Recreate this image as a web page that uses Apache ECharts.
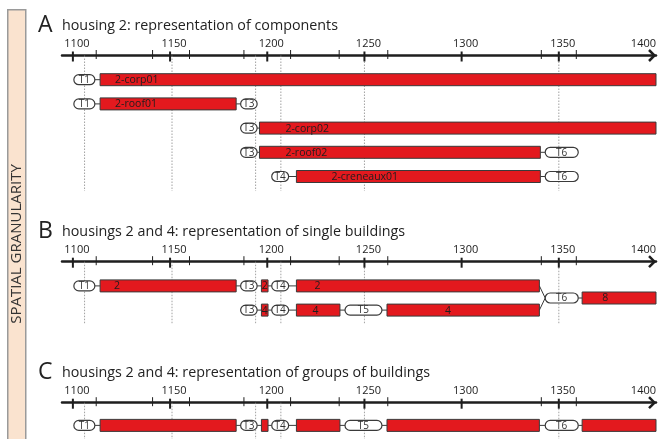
<!DOCTYPE html>
<html><head><meta charset="utf-8">
<script src="https://cdn.jsdelivr.net/npm/echarts@6/dist/echarts.min.js"></script>
<style>html,body{margin:0;padding:0;background:#fff}#c{width:659px;height:439px}</style>
</head><body><div id="c"></div>
<script>
// ---------- DATA ----------
const majorYears = [1100, 1150, 1200, 1250, 1300, 1350, 1400];
const minorYears = [1112, 1141, 1160, 1188, 1212, 1237, 1262, 1341, 1359];
const guideYears = [1106, 1151, 1194, 1207, 1250, 1350];
const panelLetters = ['A', 'B', 'C'];
const panelTitles = [
  'housing 2: representation of components',
  'housings 2 and 4: representation of single buildings',
  'housings 2 and 4: representation of groups of buildings'
];
const sideLabel = 'SPATIAL GRANULARITY';
// bars: [row, startYear, endYear, label]
const barsA = [
  [1, 1114, 1400, '2-corp01'],
  [2, 1114, 1184, '2-roof01'],
  [3, 1196, 1400, '2-corp02'],
  [4, 1196, 1340.5, '2-roof02'],
  [5, 1215, 1340.5, '2-creneaux01']
];
// pills (time markers): [row, startYear, endYear, label]
const pillsA = [
  [1, 1100.5, 1111.3, 'T1'],
  [2, 1100.5, 1111.3, 'T1'],
  [2, 1186.3, 1194.8, 'T3'],
  [3, 1186.3, 1194.8, 'T3'],
  [4, 1186.3, 1194.8, 'T3'],
  [4, 1343, 1360, 'T6'],
  [5, 1202.3, 1211, 'T4'],
  [5, 1343, 1360, 'T6']
];
const barsB = [
  [1, 1114, 1184, '2'],
  [1, 1197, 1200.4, '2'],
  [1, 1215, 1340, '2'],
  [1.5, 1362, 1400, '8'],
  [2, 1197, 1200.4, '4'],
  [2, 1215, 1237.4, '4'],
  [2, 1261.6, 1340, '4']
];
const pillsB = [
  [1, 1100.5, 1111.3, 'T1'],
  [1, 1186.3, 1194.8, 'T3'],
  [1, 1202.3, 1211, 'T4'],
  [2, 1186.3, 1194.8, 'T3'],
  [2, 1202.3, 1211, 'T4'],
  [2, 1240, 1259, 'T5'],
  [1.5, 1343, 1360, 'T6']
];
const barsC = [
  [1, 1114, 1184, ''],
  [1, 1197, 1200.4, ''],
  [1, 1215, 1237.4, ''],
  [1, 1261.6, 1340, ''],
  [1, 1362, 1400, '']
];
const pillsC = [
  [1, 1100.5, 1111.3, 'T1'],
  [1, 1186.3, 1194.8, 'T3'],
  [1, 1202.3, 1211, 'T4'],
  [1, 1240, 1259, 'T5'],
  [1, 1343, 1360, 'T6']
];

// ---------- STYLE / LAYOUT ----------
const FONT = "'Open Sans', 'DejaVu Sans', sans-serif";
const RED = '#e3191e', EDGE = '#3a3a3a', INK = '#1e1e1e';
const ROW = 24.2;
const X0 = 1094.4, X1 = 1400;
// label offset (px from bar start); null = centred
const labelDx = [
  [15, 15, 26, 26, 35],
  [14, null, 18, 20, null, 16, 58],
  [null, null, null, null, null]
];
const panels = [
  { bars: barsA, pills: pillsA, top: 55.5, rows: 5.6 },
  { bars: barsB, pills: pillsB, top: 261.7, rows: 2.6 },
  { bars: barsC, pills: pillsC, top: 402.7, rows: 1.6 }
];

function txt(text, x, y, align, size, color) {
  return { type: 'text', style: { text: text, x: x, y: y, align: align, verticalAlign: 'middle',
    textAlign: align, textVerticalAlign: 'middle', font: size + 'px ' + FONT, fill: color } };
}

const grid = [], xAxis = [], yAxis = [], series = [], title = [];
panels.forEach(function (p, i) {
  grid.push({ left: 62, right: 0, top: p.top, height: p.rows * ROW });
  yAxis.push({ gridIndex: i, type: 'value', inverse: true, min: 0, max: p.rows, show: false });
  xAxis.push({ gridIndex: i, type: 'value', position: 'top', min: X0, max: X1,
    axisLine: { show: true, onZero: false, lineStyle: { color: INK, width: 2.5 } },
    axisTick: { show: false }, splitLine: { show: false },
    axisLabel: { customValues: majorYears, margin: 6, fontSize: 11, fontFamily: FONT, color: '#222',
      padding: [0, 0, 0, 8], alignMaxLabel: 'right', formatter: function (v) { return String(v); } } });
  title.push({ text: panelLetters[i], left: 38, top: p.top - 42, padding: 0,
    textStyle: { fontSize: 23, fontWeight: 'normal', fontFamily: FONT, color: '#222' } });
  title.push({ text: panelTitles[i], left: 62, top: p.top - 37, padding: 0,
    textStyle: { fontSize: 14.3, fontWeight: 'normal', fontFamily: FONT, color: '#222' } });

  const ax = { xAxisIndex: i, yAxisIndex: i };
  // dotted guides
  series.push(Object.assign({ type: 'custom', z: 1, silent: true,
    data: guideYears.map(function (g) { return [g, 0]; }),
    encode: { x: 0, y: 1 },
    renderItem: function (params, api) {
      const a = api.coord([api.value(0), 0]);
      const b = api.coord([api.value(0), p.rows]);
      return { type: 'line', shape: { x1: a[0], y1: a[1], x2: b[0], y2: b[1] },
        style: { stroke: '#8a8a8a', lineWidth: 0.8, lineDash: [1.5, 1.5] } };
    } }, ax));
  // ticks
  const ticks = majorYears.map(function (y) { return [y, 0, 1]; })
    .concat(minorYears.map(function (y) { return [y, 0, 0]; }));
  series.push(Object.assign({ type: 'custom', z: 6, silent: true, data: ticks, encode: { x: 0, y: 1 },
    renderItem: function (params, api) {
      const c = api.coord([api.value(0), 0]);
      const major = api.value(2) === 1;
      if (major && api.value(0) >= X1) return null;
      return { type: 'line', shape: { x1: c[0], y1: c[1] - (major ? 4 : 5.5), x2: c[0], y2: c[1] + (major ? 6 : 3.5) },
        style: { stroke: INK, lineWidth: major ? 2 : 1 } };
    } }, ax));
  // arrow head
  series.push(Object.assign({ type: 'custom', z: 6, silent: true, data: [[X1, 0]], encode: { x: 0, y: 1 },
    renderItem: function (params, api) {
      const c = api.coord([api.value(0), 0]);
      return { type: 'polyline', shape: { points: [[c[0] - 7, c[1] - 5.5], [c[0] - 1.5, c[1]], [c[0] - 7, c[1] + 5.5]] },
        style: { stroke: INK, lineWidth: 2.5, fill: null } };
    } }, ax));
  // bars
  series.push(Object.assign({ type: 'custom', z: 3, silent: true,
    data: p.bars.map(function (b) { return [b[1], b[0], b[2]]; }),
    encode: { x: [0, 2], y: 1 },
    renderItem: function (params, api) {
      const b = p.bars[params.dataIndex];
      const p0 = api.coord([api.value(0), api.value(1)]);
      const p1 = api.coord([api.value(2), api.value(1)]);
      const h = 12;
      const ch = [{ type: 'rect', shape: { x: p0[0], y: p0[1] - h / 2, width: p1[0] - p0[0], height: h },
        style: { fill: RED, stroke: EDGE, lineWidth: 1 } }];
      if (b[3]) {
        const d = labelDx[i][params.dataIndex];
        if (d == null) ch.push(txt(b[3], (p0[0] + p1[0]) / 2, p0[1] + 0.5, 'center', 10.5, INK));
        else ch.push(txt(b[3], p0[0] + d, p0[1] + 0.5, 'left', 10.5, INK));
      }
      return { type: 'group', children: ch };
    } }, ax));
  // pills + connectors
  series.push(Object.assign({ type: 'custom', z: 4, silent: true,
    data: p.pills.map(function (q) { return [q[1], q[0], q[2]]; }),
    encode: { x: [0, 2], y: 1 },
    renderItem: function (params, api) {
      const q = p.pills[params.dataIndex];
      const p0 = api.coord([q[1], q[0]]);
      const p1 = api.coord([q[2], q[0]]);
      const h = 10;
      const ch = [];
      p.bars.forEach(function (b) {
        if (Math.abs(b[0] - q[0]) > 0.5) return;
        if (q[1] - b[2] >= 0 && q[1] - b[2] < 8) {
          const e = api.coord([b[2], b[0]]);
          ch.push({ type: 'line', shape: { x1: e[0], y1: e[1], x2: p0[0], y2: p0[1] }, style: { stroke: EDGE, lineWidth: 1 } });
        }
        if (b[1] - q[2] >= 0 && b[1] - q[2] < 8) {
          const s = api.coord([b[1], b[0]]);
          ch.push({ type: 'line', shape: { x1: p1[0], y1: p1[1], x2: s[0], y2: s[1] }, style: { stroke: EDGE, lineWidth: 1 } });
        }
      });
      ch.push({ type: 'rect', shape: { x: p0[0], y: p0[1] - h / 2, width: p1[0] - p0[0], height: h, r: h / 2 },
        style: { fill: '#fff', stroke: EDGE, lineWidth: 1.2 } });
      ch.push(txt(q[3], (p0[0] + p1[0]) / 2, p0[1] + 0.5, 'center', 10, '#333'));
      return { type: 'group', children: ch };
    } }, ax));
});

const chart = echarts.init(document.getElementById('c'), null, { renderer: 'canvas' });
chart.setOption({
  animation: false,
  backgroundColor: '#fff',
  title: title,
  grid: grid, xAxis: xAxis, yAxis: yAxis, series: series,
  graphic: [
    { type: 'rect', left: 7, top: 9, shape: { width: 18, height: 440 }, z: 0,
      style: { fill: '#fae3cf', stroke: '#9a9a9a', lineWidth: 1.5 } },
    { type: 'text', x: 17, y: 244, rotation: Math.PI / 2, z: 1,
      style: { text: sideLabel, align: 'center', verticalAlign: 'middle', textAlign: 'center', textVerticalAlign: 'middle',
        font: '15px ' + FONT, fill: '#333' } }
  ]
});
</script></body></html>
